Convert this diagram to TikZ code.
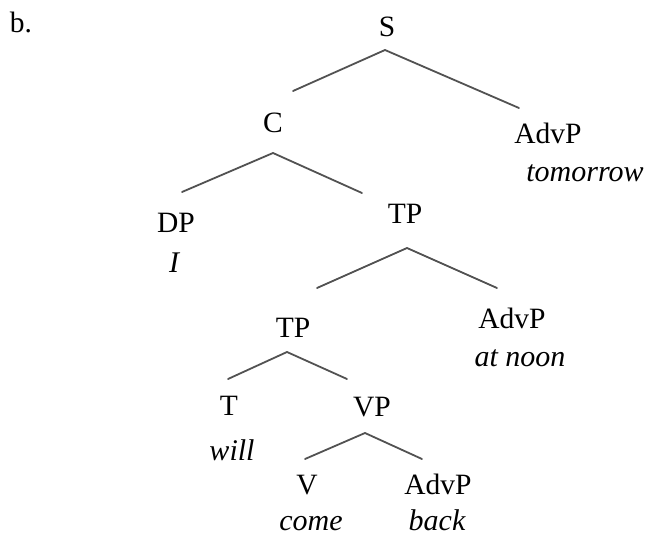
\documentclass[tikz,border=0pt]{standalone}
\usepackage{fontspec}
\setmainfont{Liberation Serif}
\begin{document}
\begin{tikzpicture}[x=1pt,y=-1pt,
  lab/.style={anchor=base,inner sep=0pt,font=\fontsize{29.5}{35}\selectfont},
  word/.style={anchor=base,inner sep=0pt,font=\fontsize{30}{35}\selectfont\itshape},
  branch/.style={draw=black!68,line width=1.8pt,line cap=round,line join=miter}]
\useasboundingbox (0,0) rectangle (649,535);
% labels
\node[lab] (b) at (21,33) {b.};
\node[lab] (S) at (387,37) {S};
\node[lab] (C) at (273,132) {C};
\node[lab] (A1) at (548,143) {AdvP};
\node[word] (w1) at (585,182) {tomorrow};
\node[lab] (DP) at (176,232) {DP};
\node[word] (w2) at (174,272) {I};
\node[lab] (TP1) at (405,223) {TP};
\node[lab] (TP2) at (293,337) {TP};
\node[lab] (A2) at (512,328) {AdvP};
\node[word] (w3) at (520,366) {at noon};
\node[lab] (T) at (229,415) {T};
\node[word] (w4) at (232,460) {will};
\node[lab] (VP) at (372,416) {VP};
\node[lab] (V) at (307,494) {V};
\node[word] (w5) at (311,530) {come};
\node[lab] (A3) at (438,494) {AdvP};
\node[word] (w6) at (437,530) {back};
% branch points
\coordinate (Sa) at (385,50);  \coordinate (Sl) at (293,91);  \coordinate (Sr) at (519,108);
\coordinate (Ca) at (273,153); \coordinate (Cl) at (182,192); \coordinate (Cr) at (362,193);
\coordinate (Ta) at (407,248); \coordinate (Tl) at (317,288); \coordinate (Tr) at (497,288);
\coordinate (Ua) at (287,352); \coordinate (Ul) at (228,379); \coordinate (Ur) at (347,379);
\coordinate (Va) at (365,433); \coordinate (Vl) at (305,459); \coordinate (Vr) at (422,459);
\draw[branch] (Sl) -- (Sa) -- (Sr);
\draw[branch] (Cl) -- (Ca) -- (Cr);
\draw[branch] (Tl) -- (Ta) -- (Tr);
\draw[branch] (Ul) -- (Ua) -- (Ur);
\draw[branch] (Vl) -- (Va) -- (Vr);
\end{tikzpicture}
\end{document}
